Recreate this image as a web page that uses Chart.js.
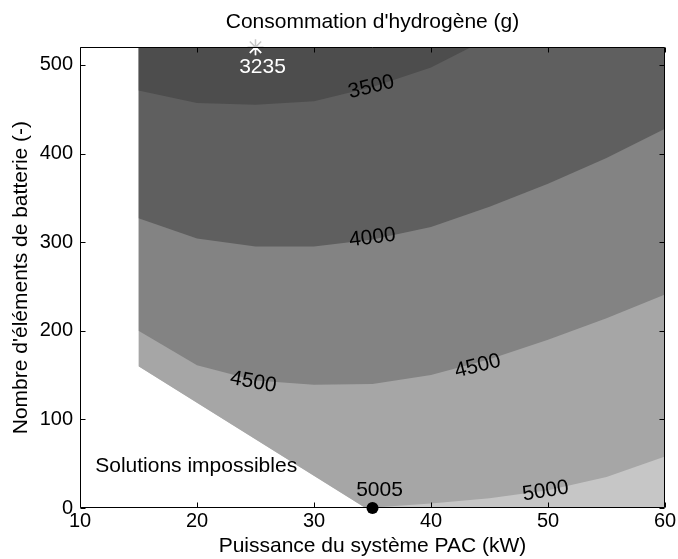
<!DOCTYPE html>
<html>
<head>
<meta charset="utf-8">
<script src="https://cdn.jsdelivr.net/npm/chart.js@4/dist/chart.umd.min.js"></script>
<style>
  html, body { margin: 0; padding: 0; background: #fff; }
</style>
</head>
<body>
<canvas id="chart" width="678" height="559"></canvas>
<script>
const xTicks = [10, 20, 30, 40, 50, 60];
const yTicks = [0, 100, 200, 300, 400, 500];

// domaine faisable (bord gauche + diagonale)
const feasX = [15, 34.4, 60];
const feasY = [160, 0, 0];

// iso-consommation (g)
const c5000X = [15, 34.4, 36, 40, 45, 50, 55, 60];
const c5000Y = [160, 0, 1.5, 5, 11, 20, 35, 58];
const c4500X = [15, 20, 25, 30, 35, 40, 45, 50, 55, 60];
const c4500Y = [200, 161, 144, 139, 140, 150, 168, 190, 214, 241];
const c4000X = [15, 20, 25, 30, 35, 40, 45, 50, 55, 60];
const c4000Y = [327, 304, 295, 295, 303, 317, 340, 366, 395, 428];
const c3500X = [15, 20, 25, 30, 35, 40, 43.4];
const c3500Y = [471, 457, 455, 459, 475, 497, 520];

// minimum et point retenu
const minPoint = { x: 25, y: 520, label: '3235' };
const optPoint = { x: 35, y: 0, label: '5005' };

// etiquettes des courbes
const labelText = ['3500', '4000', '4500', '4500', '5000', '5005', '3235'];
const labelX = [34.9, 35.0, 24.8, 44.0, 49.8, 35.6, 25.6];
const labelY = [475, 305, 142, 160, 19, 20, 497];
const labelAngle = [-14, -7, 10, -14, -9, 0, 0];
const labelColor = ['#000', '#000', '#000', '#000', '#000', '#000', '#fff'];

const FONT = '"Liberation Sans", Arial, sans-serif';
Chart.defaults.font.family = FONT;
Chart.defaults.color = '#000';

const pts = (xs, ys) => xs.map((v, i) => ({ x: v, y: ys[i] }));

function area(xs, ys, color, order) {
  return {
    type: 'line',
    data: pts(xs, ys),
    borderColor: 'transparent',
    borderWidth: 1,
    backgroundColor: color,
    pointRadius: 0,
    tension: 0,
    fill: 'end',
    order: order
  };
}

const decor = {
  id: 'decor',
  afterDatasetsDraw(chart) {
    const { ctx, chartArea: a, scales: { x, y } } = chart;
    ctx.save();
    // cadre + graduations vers l'interieur
    ctx.strokeStyle = '#000';
    ctx.lineWidth = 1;
    const L = Math.round(a.left) + 0.5, R = Math.round(a.right) - 0.5;
    const T = Math.round(a.top) + 0.5, B = Math.round(a.bottom) - 0.5;
    ctx.beginPath();
    ctx.rect(L, T, R - L, B - T);
    xTicks.forEach(v => {
      const px = Math.round(x.getPixelForValue(v)) + 0.5;
      ctx.moveTo(px, B); ctx.lineTo(px, B - 5);
      ctx.moveTo(px, T); ctx.lineTo(px, T + 5);
    });
    yTicks.forEach(v => {
      const py = Math.round(y.getPixelForValue(v)) + 0.5;
      ctx.moveTo(L, py); ctx.lineTo(L + 5, py);
      ctx.moveTo(R, py); ctx.lineTo(R - 5, py);
    });
    ctx.stroke();

    ctx.font = '21px ' + FONT;
    ctx.textAlign = 'center';
    ctx.textBaseline = 'middle';
    labelText.forEach((t, i) => {
      ctx.save();
      ctx.translate(x.getPixelForValue(labelX[i]), y.getPixelForValue(labelY[i]));
      ctx.rotate(labelAngle[i] * Math.PI / 180);
      ctx.fillStyle = labelColor[i];
      ctx.fillText(t, 0, 0);
      ctx.restore();
    });
    ctx.textAlign = 'left';
    ctx.fillStyle = '#000';
    ctx.fillText('Solutions impossibles', x.getPixelForValue(11.3), y.getPixelForValue(47));
    ctx.restore();
  }
};

new Chart(document.getElementById('chart'), {
  type: 'line',
  data: {
    datasets: [
      {
        data: [{ x: minPoint.x, y: minPoint.y }],
        pointStyle: 'star', pointRadius: 8, pointBorderWidth: 1.5,
        pointBorderColor: '#fff', borderColor: '#fff', showLine: false, clip: 0, order: 0
      },
      {
        data: [{ x: minPoint.x, y: minPoint.y }],
        pointStyle: 'star', pointRadius: 8, pointBorderWidth: 1.5,
        pointBorderColor: '#c8c8c8', borderColor: '#c8c8c8', showLine: false, clip: false, order: 0.5
      },
      {
        data: [{ x: optPoint.x, y: optPoint.y }],
        pointStyle: 'circle', pointRadius: 6, pointBorderWidth: 0,
        pointBackgroundColor: '#000', borderColor: '#000', showLine: false, clip: false, order: 0
      },
      area(c3500X, c3500Y, '#4d4d4d', 1),
      area(c4000X, c4000Y, '#5f5f5f', 2),
      area(c4500X, c4500Y, '#838383', 3),
      area(c5000X, c5000Y, '#a6a6a6', 4),
      area(feasX, feasY, '#c6c6c6', 5)
    ]
  },
  options: {
    responsive: false,
    animation: false,
    layout: { padding: { left: 0, right: 13, top: 0, bottom: 0 } },
    plugins: {
      legend: { display: false },
      tooltip: { enabled: false },
      title: {
        display: true,
        text: "Consommation d'hydrogène (g)",
        fullSize: false,
        color: '#000',
        font: { size: 21, weight: 'normal' },
        padding: { top: 10, bottom: 12 }
      }
    },
    scales: {
      x: {
        type: 'linear',
        min: 10,
        max: 60,
        grid: { display: false, drawTicks: false },
        border: { display: false },
        afterBuildTicks: s => { s.ticks = xTicks.map(v => ({ value: v })); },
        afterFit: s => { s.height = 51; },
        ticks: { font: { size: 20 }, color: '#000', padding: 1, maxRotation: 0 },
        title: {
          display: true,
          text: 'Puissance du système PAC (kW)',
          color: '#000',
          font: { size: 21 },
          padding: { top: 0, bottom: 0 }
        }
      },
      y: {
        type: 'linear',
        min: 0,
        max: 520,
        grid: { display: false, drawTicks: false },
        border: { display: false },
        afterBuildTicks: s => { s.ticks = yTicks.map(v => ({ value: v })); },
        afterFit: s => { s.width = 80; },
        ticks: { font: { size: 20 }, color: '#000', padding: 7 },
        title: {
          display: true,
          text: "Nombre d'éléments de batterie (-)",
          color: '#000',
          font: { size: 21 },
          padding: { top: 9, bottom: 0 }
        }
      }
    }
  },
  plugins: [decor]
});
</script>
</body>
</html>
